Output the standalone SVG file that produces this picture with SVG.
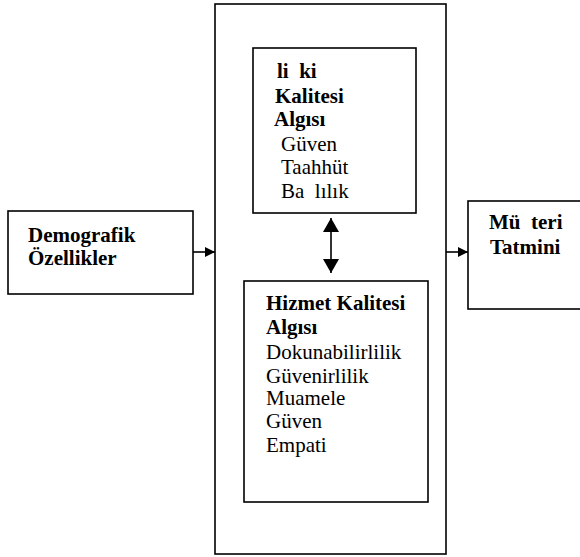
<svg xmlns="http://www.w3.org/2000/svg" width="580" height="557" viewBox="0 0 580 557">
<defs>
<style>
.box{fill:#fff;stroke:#000;stroke-width:1.6}
.b{font-family:"Liberation Serif","Times New Roman",serif;font-size:21px;font-weight:bold;fill:#000}
.r{font-family:"Liberation Serif","Times New Roman",serif;font-size:21px;fill:#000}
.ln{stroke:#000;stroke-width:1.6;fill:none}
</style>
<marker id="ah" viewBox="0 0 10 10" refX="10" refY="5" markerWidth="10" markerHeight="10" markerUnits="userSpaceOnUse" orient="auto-start-reverse">
<path d="M0,0 L10,5 L0,10 Z" fill="#000"/>
</marker>
<marker id="big" viewBox="0 0 14 16" refX="14" refY="8" markerWidth="14" markerHeight="16" markerUnits="userSpaceOnUse" orient="auto-start-reverse">
<path d="M0,0 L14,8 L0,16 Z" fill="#000"/>
</marker>
</defs>
<g id="outer"><rect class="box" x="215" y="4" width="231" height="550"/></g>
<g id="iliski">
<rect class="box" x="253" y="48" width="163" height="165"/>
<text class="b" x="277" y="78" xml:space="preserve">li  ki</text>
<text class="b" x="275" y="103">Kalitesi</text>
<text class="b" x="274" y="126">Algısı</text>
<text class="r" x="281" y="151">Güven</text>
<text class="r" x="281" y="174">Taahhüt</text>
<text class="r" x="281" y="198" xml:space="preserve">Ba  lılık</text>
</g>
<g id="hizmet">
<rect class="box" x="244" y="281" width="184" height="221"/>
<text class="b" x="266" y="310">Hizmet Kalitesi</text>
<text class="b" x="266" y="334">Algısı</text>
<text class="r" x="266" y="359">Dokunabilirlilik</text>
<text class="r" x="266" y="383">Güvenirlilik</text>
<text class="r" x="266" y="405">Muamele</text>
<text class="r" x="266" y="428">Güven</text>
<text class="r" x="266" y="452">Empati</text>
</g>
<g id="demografik">
<rect class="box" x="8" y="211" width="185" height="83"/>
<text class="b" x="28" y="242">Demografik</text>
<text class="b" x="28" y="265">Özellikler</text>
</g>
<g id="musteri">
<rect class="box" x="468" y="201" width="130" height="108"/>
<text class="b" x="489" y="229" xml:space="preserve">Mü  teri</text>
<text class="b" x="490" y="254">Tatmini</text>
</g>
<g id="connectors">
<line class="ln" x1="193" y1="252" x2="215" y2="252" marker-end="url(#ah)"/>
<line class="ln" x1="446" y1="252" x2="468" y2="252" marker-end="url(#ah)"/>
<line class="ln" x1="331" y1="218" x2="331" y2="273" marker-start="url(#big)" marker-end="url(#big)"/>
</g>
</svg>
